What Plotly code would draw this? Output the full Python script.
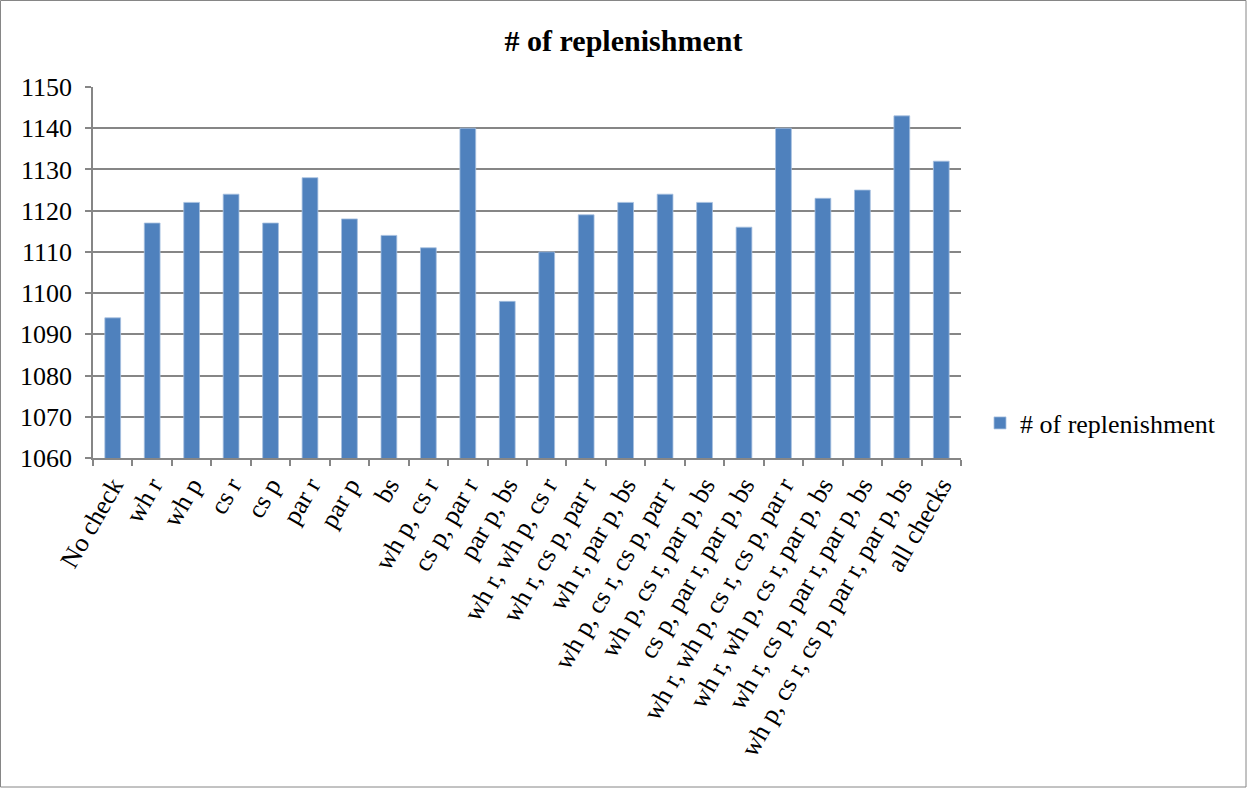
import plotly.graph_objects as go

categories = [
    "No check", "wh r", "wh p", "cs r", "cs p", "par r", "par p", "bs",
    "wh p, cs r", "cs p, par r", "par p, bs", "wh r, wh p, cs r",
    "wh r, cs p, par r", "wh r, par p, bs", "wh p, cs r, cs p, par r",
    "wh p, cs r, par p, bs", "cs p, par r, par p, bs",
    "wh r, wh p, cs r, cs p, par r", "wh r, wh p, cs r, par p, bs",
    "wh r, cs p, par r, par p, bs", "wh p, cs r, cs p, par r, par p, bs",
    "all checks",
]
replenishments = [1094, 1117, 1122, 1124, 1117, 1128, 1118, 1114, 1111, 1140,
                  1098, 1110, 1119, 1122, 1124, 1122, 1116, 1140, 1123, 1125,
                  1143, 1132]
y_ticks = list(range(1060, 1151, 10))

W, H = 1247, 788
L, R, T, B = 93, 286, 87, 330
pw, ph = W - L - R, H - T - B

fig = go.Figure(go.Bar(
    x=categories, y=replenishments, name="# of replenishment",
    marker=dict(color="#4F81BD", line=dict(color="#A7C0E0", width=0.8)),
    showlegend=True,
))

font = "Liberation Serif, Times New Roman, serif"
fs = 26
fig.update_layout(
    width=W, height=H,
    margin=dict(l=L, r=R, t=T, b=B, pad=0),
    paper_bgcolor="white", plot_bgcolor="white",
    font=dict(family=font, size=fs, color="black"),
    bargap=0.6,
    title=dict(text="<b># of replenishment</b>", x=0.5, xanchor="center",
               y=1 - 40 / H, yanchor="middle", font=dict(size=30, family=font)),
    legend=dict(x=(980 - L) / pw, y=(458 - 423) / ph, xanchor="left", yanchor="middle",
                font=dict(size=fs, family=font), bgcolor="rgba(0,0,0,0)",
                itemwidth=30, tracegroupgap=0),
    xaxis=dict(
        type="category", tickangle=-60, tickson="boundaries",
        ticks="outside", ticklen=6, tickcolor="#868686", tickwidth=1.5,
        showline=True, linecolor="#868686", linewidth=1.5,
        showgrid=False, tickfont=dict(size=fs, family=font),
    ),
    yaxis=dict(
        range=[1060, 1150], tickvals=y_ticks, ticks="outside", ticklen=6,
        tickcolor="#868686", tickwidth=1.5, ticklabelstandoff=8,
        showline=True, linecolor="#868686", linewidth=1.5,
        showgrid=True, gridcolor="#868686", gridwidth=1.5,
        tickfont=dict(size=fs, family=font), zeroline=False,
    ),
    shapes=[dict(type="rect", xref="paper", yref="paper",
                 x0=-L / pw + 0.5 / pw, x1=(pw + R - 1) / pw,
                 y0=-(B - 1) / ph, y1=(ph + T - 0.5) / ph,
                 line=dict(color="#868686", width=1))],
)

fig.write_html("out.html")
